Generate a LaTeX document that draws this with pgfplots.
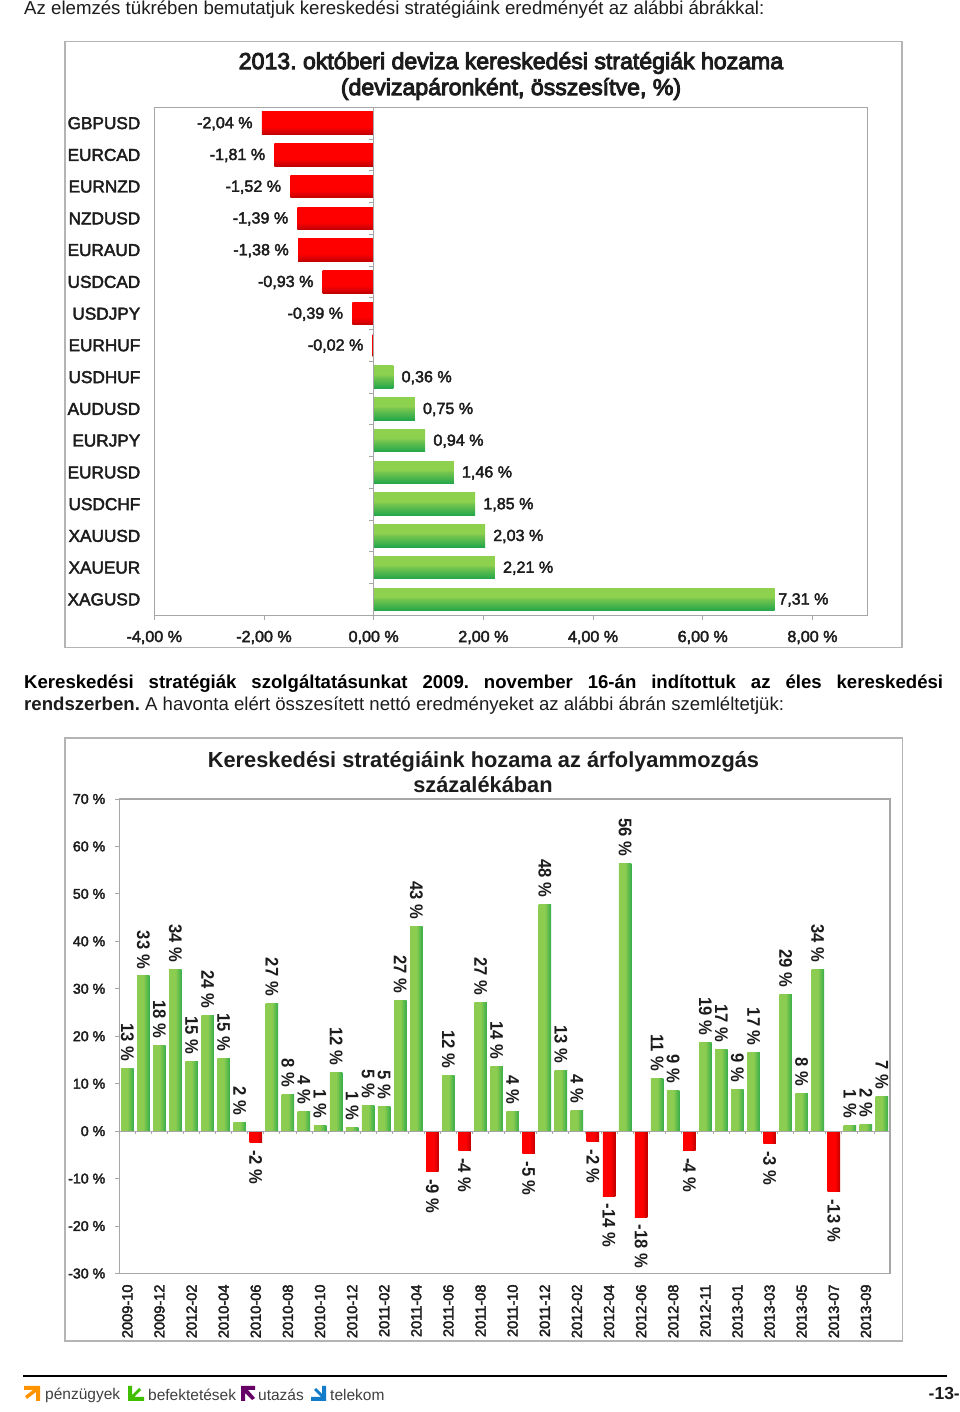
\documentclass[border=0pt]{standalone}
\usepackage{fontspec}
\usepackage{pgfplots}
\pgfplotsset{compat=1.18}
\setmainfont{Liberation Sans}
\newfontfamily\semi[FakeBold=2.5]{Liberation Sans}
\newfontfamily\semib[FakeBold=4]{Liberation Sans}
\frenchspacing
\definecolor{gl}{HTML}{8ED14F}
\definecolor{gm}{HTML}{72C44E}
\definecolor{gd}{HTML}{22A64A}
\definecolor{hl}{HTML}{8CCC50}
\definecolor{hd}{HTML}{36AE4A}
\definecolor{rl}{HTML}{FF0000}
\definecolor{rd}{HTML}{C00000}
\definecolor{frm}{HTML}{B4B4B4}
\definecolor{axc}{HTML}{A6A6A6}
\definecolor{txt}{HTML}{1C1C1C}
\pgfdeclareverticalshading{gv}{100bp}{color(0bp)=(gd); color(25bp)=(gd); color(50bp)=(gm); color(56bp)=(gl); color(100bp)=(gl)}
\pgfdeclareverticalshading{rv}{100bp}{color(0bp)=(rd); color(25bp)=(rd); color(42bp)=(rl); color(100bp)=(rl)}
\pgfdeclarehorizontalshading{gh}{100bp}{color(0bp)=(hl); color(50bp)=(hl); color(75bp)=(hd); color(100bp)=(hd)}
\pgfdeclarehorizontalshading{rh}{100bp}{color(0bp)=(rl); color(55bp)=(rl); color(75bp)=(rd); color(100bp)=(rd)}
% one bar per \addplot, so that each bar has its own gradient
\newcommand\hneg[3]{\addplot[draw=none,shade,shading=rv,every node near coord/.append style={anchor=east,xshift=-9pt,yshift=-0.5pt}] coordinates {(#1,#2) [#3]};}
\newcommand\hpos[3]{\addplot[draw=none,shade,shading=gv,every node near coord/.append style={anchor=west,xshift=8pt,yshift=-0.5pt}] coordinates {(#1,#2) [#3]};}
\newcommand\vpos[3]{\addplot[draw=none,shade,shading=gh,every node near coord/.append style={anchor=east,xshift=-7pt}] coordinates {(#1,#2) [#3]};}
\newcommand\vneg[3]{\addplot[draw=none,shade,shading=rh,every node near coord/.append style={anchor=west,xshift=7.5pt}] coordinates {(#1,#2) [#3]};}
\begin{document}
\begin{tikzpicture}
\path[use as bounding box,fill=white] (0pt,0pt) rectangle (960pt,1412pt);
% page text
\node[anchor=west,inner sep=0,font=\fontsize{18.65}{20}\selectfont,text=txt] at (24pt,1402pt) {Az elemzés tükrében bemutatjuk kereskedési stratégiáink eredményét az alábbi ábrákkal:};
\node[anchor=west,inner sep=0,font=\fontsize{18.6}{20}\bfseries\selectfont,text=black] at (24pt,728pt) {\makebox[919pt][s]{Kereskedési stratégiák szolgáltatásunkat 2009. november 16-án indítottuk az éles kereskedési}};
\node[anchor=west,inner sep=0,font=\fontsize{18.6}{20}\selectfont,text=txt] at (24pt,706.5pt) {\textbf{rendszerben.} A havonta elért összesített nettó eredményeket az alábbi ábrán szemléltetjük:};
% frames
\draw[frm,line width=1.3pt] (65pt,1370.3pt) rectangle (902pt,764.7pt);
\draw[frm,line width=1.3pt] (65pt,674pt) rectangle (902.7pt,71pt);
% titles
\node[inner sep=0,font=\semib\fontsize{23.1}{26}\selectfont,text=txt] at (511pt,1349pt) {2013. októberi deviza kereskedési stratégiák hozama};
\node[inner sep=0,font=\semib\fontsize{23.1}{26}\selectfont,text=txt] at (511pt,1323pt) {(devizapáronként, összesítve, \%)};
\node[inner sep=0,font=\bfseries\fontsize{21.8}{24}\selectfont,text=txt] at (483.5pt,650pt) {Kereskedési stratégiáink hozama az árfolyammozgás};
\node[inner sep=0,font=\bfseries\fontsize{21.8}{24}\selectfont,text=txt] at (483pt,627pt) {százalékában};
% chart 1
\begin{axis}[
  at={(154.3pt,796.7pt)},anchor=south west,scale only axis,width=713pt,height=508pt,
  xmin=-4,xmax=9,ymin=0.5,ymax=16.5,y dir=reverse,
  axis line style={axc,line width=1.1pt},
  xtick={-4,-2,0,2,4,6,8},
  xticklabels={{-4,00 \%},{-2,00 \%},{0,00 \%},{2,00 \%},{4,00 \%},{6,00 \%},{8,00 \%}},
  ytick={1,...,16},
  yticklabels={GBPUSD,EURCAD,EURNZD,NZDUSD,EURAUD,USDCAD,USDJPY,EURHUF,USDHUF,AUDUSD,EURJPY,EURUSD,USDCHF,XAUUSD,XAUEUR,XAGUSD},
  tick style={axc,line width=0.9pt},
  tick align=outside,major tick length=4.5pt,
  xtick pos=bottom,ytick style={draw=none},ytick pos=left,
  tick label style={font=\semi\fontsize{16.1}{18}\selectfont,text=txt},
  yticklabel style={font=\semi\fontsize{17.2}{18}\selectfont,xshift=-6pt},
  xticklabel style={yshift=-7.5pt},
  xbar,bar shift=0pt,bar width=22.5pt,
  clip=false,
  point meta=explicit symbolic,
  nodes near coords={\pgfplotspointmeta{} \%},
  every node near coord/.append style={font=\semi\fontsize{16.1}{18}\selectfont,text=txt,inner sep=0pt},
]
\hneg{-2.04}{1}{-2,04}
\hneg{-1.81}{2}{-1,81}
\hneg{-1.52}{3}{-1,52}
\hneg{-1.39}{4}{-1,39}
\hneg{-1.38}{5}{-1,38}
\hneg{-0.93}{6}{-0,93}
\hneg{-0.39}{7}{-0,39}
\hneg{-0.02}{8}{-0,02}
\hpos{0.36}{9}{0,36}
\hpos{0.75}{10}{0,75}
\hpos{0.94}{11}{0,94}
\hpos{1.46}{12}{1,46}
\hpos{1.85}{13}{1,85}
\hpos{2.03}{14}{2,03}
\hpos{2.21}{15}{2,21}
\addplot[draw=none,shade,shading=gv,every node near coord/.append style={anchor=west,xshift=3.5pt,yshift=-0.5pt}] coordinates {(7.31,16) [7,31]};
\draw[axc,line width=0.9pt] (axis cs:0,0.5) -- (axis cs:0,16.5);
\pgfplotsinvokeforeach{1.5,2.5,...,15.5}{\draw[axc,line width=0.8pt] (axis cs:-0.08,#1) -- (axis cs:0,#1);}
\end{axis}
% chart 2
\begin{axis}[
  at={(119.3pt,138.5pt)},anchor=south west,scale only axis,width=770.7pt,height=474.5pt,
  xmin=0.5,xmax=48.5,ymin=-30,ymax=70,
  axis line style={axc,line width=1.1pt},
  xtick={1,3,...,47},
  xticklabels={2009-10,2009-12,2012-02,2010-04,2010-06,2010-08,2010-10,2010-12,2011-02,2011-04,2011-06,2011-08,2011-10,2011-12,2012-02,2012-04,2012-06,2012-08,2012-11,2013-01,2013-03,2013-05,2013-07,2013-09},
  ytick={-30,-20,...,70},
  yticklabels={-30 \%,-20 \%,-10 \%,0 \%,10 \%,20 \%,30 \%,40 \%,50 \%,60 \%,70 \%},
  tick style={axc,line width=0.9pt},
  tick align=outside,major tick length=4.5pt,
  xtick pos=bottom,ytick pos=left,xtick style={draw=none},
  yticklabel style={font=\semi\fontsize{14.2}{16}\selectfont,text=txt,xshift=-6pt},
  xticklabel style={font=\semi\fontsize{14.6}{16}\selectfont,text=txt,rotate=90,anchor=east,xshift=-3pt},
  ybar,bar shift=0pt,bar width=12.5pt,
  clip=false,
  point meta=explicit symbolic,
  nodes near coords={\pgfplotspointmeta{} \%},
  every node near coord/.append style={font=\bfseries\fontsize{16.6}{18}\selectfont,text=txt,inner sep=0pt,rotate=-90,yscale=1.1},
]
\vpos{1}{13.2}{13}
\vpos{2}{32.7}{33}
\vpos{3}{18}{18}
\vpos{4}{34.1}{34}
\vpos{5}{14.7}{15}
\vpos{6}{24.4}{24}
\vpos{7}{15.3}{15}
\vpos{8}{1.9}{2}
\vneg{9}{-2.4}{-2}
\vpos{10}{27}{27}
\vpos{11}{7.8}{8}
\vpos{12}{4.2}{4}
\vpos{13}{1.25}{1}
\vpos{14}{12.3}{12}
\vpos{15}{0.8}{1}
\vpos{16}{5.5}{5}
\vpos{17}{5.2}{5}
\vpos{18}{27.5}{27}
\vpos{19}{43.2}{43}
\vneg{20}{-8.5}{-9}
\vpos{21}{11.7}{12}
\vneg{22}{-4.1}{-4}
\vpos{23}{27.2}{27}
\vpos{24}{13.6}{14}
\vpos{25}{4.2}{4}
\vneg{26}{-4.8}{-5}
\vpos{27}{47.8}{48}
\vpos{28}{12.8}{13}
\vpos{29}{4.3}{4}
\vneg{30}{-2.25}{-2}
\vneg{31}{-13.7}{-14}
\vpos{32}{56.4}{56}
\vneg{33}{-18.1}{-18}
\vpos{34}{11.1}{11}
\vpos{35}{8.6}{9}
\vneg{36}{-4.1}{-4}
\vpos{37}{18.75}{19}
\vpos{38}{17.25}{17}
\vpos{39}{8.75}{9}
\vpos{40}{16.5}{17}
\vneg{41}{-2.6}{-3}
\vpos{42}{28.8}{29}
\vpos{43}{8}{8}
\vpos{44}{34.1}{34}
\vneg{45}{-12.75}{-13}
\vpos{46}{1.25}{1}
\vpos{47}{1.4}{2}
\vpos{48}{7.4}{7}
\draw[axc,line width=0.9pt] (axis cs:0.5,0) -- (axis cs:48.5,0);
\pgfplotsinvokeforeach{0.5,1.5,...,48.5}{\draw[axc,line width=0.8pt] (axis cs:#1,0) -- (axis cs:#1,-0.7);}
\end{axis}
% footer
\draw[black,line width=1.2pt] (23pt,36pt) -- (947pt,36pt);
\fill[orange!85!yellow] (24pt,26pt) -- (40pt,26pt) -- (40pt,11pt) -- (36pt,11pt) -- (36pt,20pt) -- (27pt,13pt) -- (25pt,16pt) -- (33pt,22pt) -- (24pt,22pt) -- cycle;
\fill[green!50!olive] (128pt,26pt) -- (132pt,26pt) -- (132pt,17pt) -- (139pt,24pt) -- (141pt,22pt) -- (134pt,15pt) -- (144pt,15pt) -- (144pt,11pt) -- (128pt,11pt) -- cycle;
\fill[violet!80!black] (241pt,26pt) -- (255pt,26pt) -- (255pt,22pt) -- (248pt,22pt) -- (255pt,14pt) -- (252pt,12pt) -- (245pt,19pt) -- (245pt,11pt) -- (241pt,11pt) -- cycle;
\fill[cyan!60!blue] (322pt,26pt) -- (326pt,26pt) -- (326pt,11pt) -- (311pt,11pt) -- (311pt,15pt) -- (321pt,15pt) -- (314pt,22pt) -- (316pt,24pt) -- (322pt,18pt) -- cycle;
\node[anchor=west,inner sep=0,font=\fontsize{15.5}{18}\selectfont,text=black!75] at (45pt,17pt) {pénzügyek};
\node[anchor=west,inner sep=0,font=\fontsize{15.5}{18}\selectfont,text=black!75] at (148pt,17pt) {befektetések};
\node[anchor=west,inner sep=0,font=\fontsize{15.5}{18}\selectfont,text=black!75] at (258pt,17pt) {utazás};
\node[anchor=west,inner sep=0,font=\fontsize{15.5}{18}\selectfont,text=black!75] at (330pt,17pt) {telekom};
\node[anchor=east,inner sep=0,font=\bfseries\fontsize{17.5}{20}\selectfont,text=txt] at (960pt,19pt) {-13-};
\end{tikzpicture}
\end{document}
